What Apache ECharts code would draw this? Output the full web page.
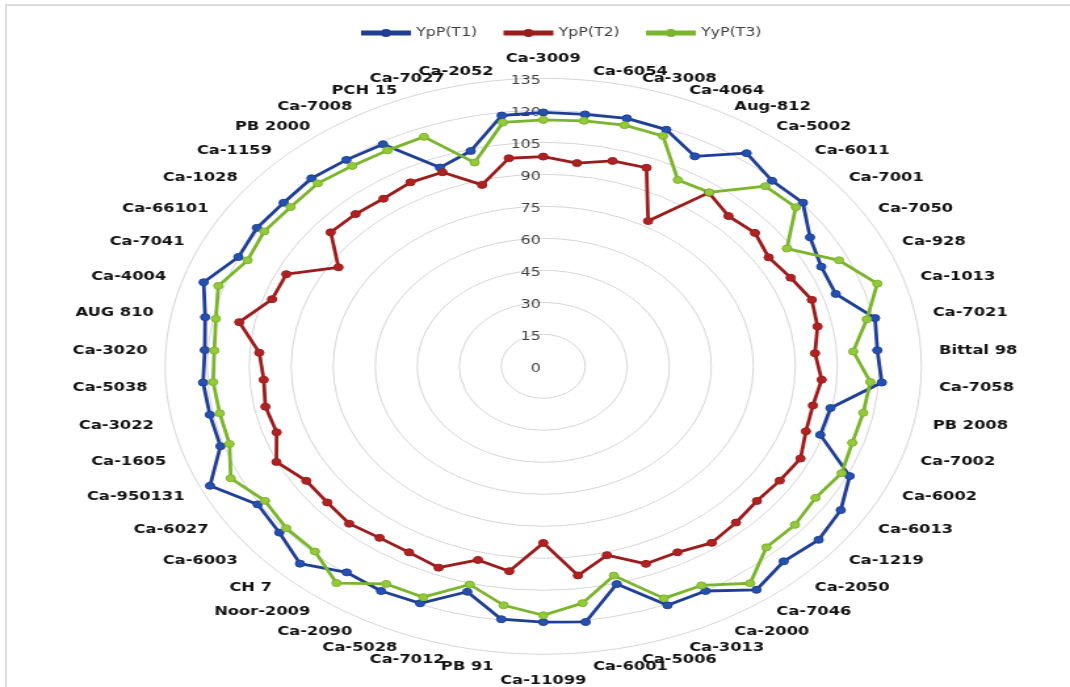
<!DOCTYPE html>
<html><head><meta charset="utf-8">
<script src="https://cdn.jsdelivr.net/npm/echarts@6/dist/echarts.min.js"></script>
<style>
html,body{margin:0;padding:0;background:#fff;overflow:hidden;width:1070px;height:687px;}
#frame{position:absolute;left:5px;top:4px;width:1120px;height:740px;border-top:2px solid #dcdcdc;border-left:2px solid #dcdcdc;}
#chart{position:absolute;left:0;top:0;width:815px;height:687px;transform:scaleX(1.31288);transform-origin:0 0;}
</style></head><body>
<div id="frame"></div>
<div id="chart"></div>
<script>
const categories = ['Ca-3009','Ca-6054','Ca-3008','Ca-4064','Aug-812','Ca-5002','Ca-6011','Ca-7001','Ca-7050','Ca-928',
  'Ca-1013','Ca-7021','Bittal 98','Ca-7058','PB 2008','Ca-7002','Ca-6002','Ca-6013','Ca-1219','Ca-2050',
  'Ca-7046','Ca-2000','Ca-3013','Ca-5006','Ca-6001','Ca-11099','PB 91','Ca-7012','Ca-5028','Ca-2090',
  'Noor-2009','CH 7','Ca-6003','Ca-6027','Ca-950131','Ca-1605','Ca-3022','Ca-5038','Ca-3020','AUG 810',
  'Ca-4004','Ca-7041','Ca-66101','Ca-1028','Ca-1159','PB 2000','Ca-7008','PCH 15','Ca-7027','Ca-2052'];
const ypT1 = [119,119,120,119.3,112.3,123.5,119.3,120.3,112.8,109.7,
  109.8,120.6,119.5,121.1,104.4,104,120.9,125.8,127.6,125.4,
  129.5,120.2,120.5,105.4,120.8,119.9,119.5,109.1,119.5,120.2,
  119.4,126.9,122.3,120.8,131.5,121.2,121.2,121.7,121.1,122.9,
  127.5,120.3,121.1,120.3,120.9,119.6,118.8,100.2,104.2,118.5];
const ypT2 = [98.3,96,99.4,100.1,77.7,100.6,96.6,98.1,95.3,97.6,
  100.8,99.7,97.2,99.6,98,98.6,101.5,100,99,100.5,
  102.3,99.5,99.6,91.4,98.8,82.8,96.8,93.7,101.5,99.5,
  99.4,101.2,100.1,100.2,105.3,100.1,101,100,101.6,110.5,
  101.8,101.4,86.6,98.5,97.9,97.1,98.4,97.8,87.8,98.3];
const yyT3 = [115.5,116,116.7,116.1,99.7,100.8,115.8,117,103,116.7,
  125.4,117.6,110.9,117,116.3,116,117.7,115.1,116.6,116.4,
  125.7,117.2,117,101.3,111.9,116.7,112.9,105.6,116.4,116.4,
  125.6,119.1,119.1,117.7,123.3,117.8,117.6,118.1,117.7,119,
  122,116.7,118,117.1,117.6,116.1,115.5,115.7,98.6,115.2];
const seriesNames = ['YpP(T1)','YpP(T2)','YyP(T3)'];
const seriesColors = ['#1f3f96','#9c1c1c','#7ab52c'];
const markerColors = ['#2451b0','#b02222','#96c93a'];
const axisMin = 0, axisMax = 135, axisStep = 15;

// ECharts places indicators counter-clockwise; reorder so they run clockwise from the top
const order = [0];
for (let i = categories.length - 1; i >= 1; i--) order.push(i);
const reorder = arr => order.map(i => arr[i]);

const n = categories.length;
const indicator = order.map((i, k) => {
  const ind = { name: categories[i], min: axisMin, max: axisMax };
  if (i === n / 2) {
    ind.nameTextStyle = { padding: [6, 0, 0, 0] };
  } else if (i !== 0) {
    // nudge names slightly downward, a bit more in the upper half (as in the source chart)
    const c = Math.cos(i * 2 * Math.PI / n);
    const shift = 3 + 2 * c;
    ind.nameTextStyle = { verticalAlign: 'top', lineHeight: 2 * shift };
  }
  if (k === 0) {
    ind.axisLabel = { show: true, color: '#404040', fontSize: 12, fontFamily: 'DejaVu Sans', margin: 2, verticalAlign: 'top', lineHeight: 6 };
  }
  return ind;
});

const allValues = [ypT1, ypT2, yyT3];
const legendIcon = 'path://M0,1.6h15v2.8h-15z M21,1.6h15v2.8h-15z M18,0a3,3 0 1,1 0,6a3,3 0 1,1 0,-6z';

const chart = echarts.init(document.getElementById('chart'), null, { renderer: 'canvas' });
chart.setOption({
  animation: false,
  legend: {
    left: 270, top: 22,
    itemWidth: 36, itemHeight: 6, itemGap: 20,
    data: seriesNames.map((nm, k) => ({ name: nm, icon: legendIcon, itemStyle: { color: seriesColors[k] } })),
    textStyle: { fontFamily: 'DejaVu Sans', fontSize: 12, color: '#404040' }
  },
  radar: {
    center: [413.8, 366.3],
    radius: 288,
    startAngle: 90,
    splitNumber: (axisMax - axisMin) / axisStep,
    shape: 'circle',
    nameGap: 14,
    axisName: { color: '#111', fontFamily: 'DejaVu Sans', fontSize: 12.4, fontWeight: 'bold' },
    axisLine: { show: false },
    axisTick: { show: false },
    axisLabel: { show: false },
    splitLine: { lineStyle: { color: '#d6d6d6', width: 1 } },
    splitArea: { show: false },
    indicator: indicator
  },
  series: allValues.map((vals, k) => ({
    type: 'radar',
    name: seriesNames[k],
    symbol: 'circle',
    symbolSize: 7,
    lineStyle: { color: seriesColors[k], width: 2.8 },
    itemStyle: { color: markerColors[k], borderColor: seriesColors[k], borderWidth: 1 },
    data: [{ name: seriesNames[k], value: reorder(vals) }]
  }))
});
</script>
</body></html>
